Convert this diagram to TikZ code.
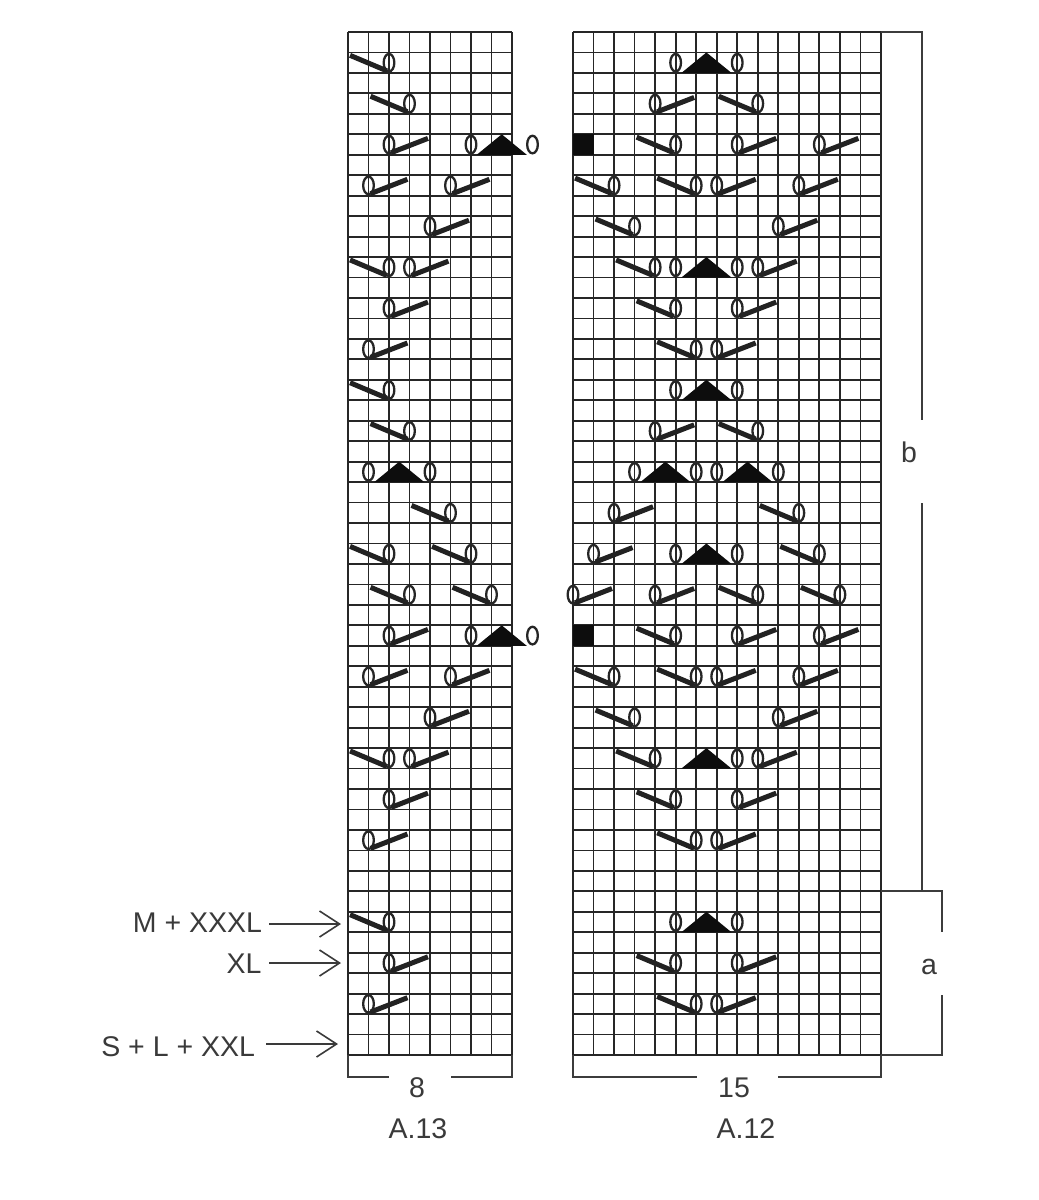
\documentclass[tikz,border=0pt]{standalone}
\usepackage{fontspec}
\setmainfont{Liberation Sans}
\usetikzlibrary{arrows.meta}
\definecolor{ink}{HTML}{262626}
\definecolor{labelink}{HTML}{3A3A3A}
\tikzset{
  chartgrid/.style={ink, line width=1.8pt},
  bar/.style={ink!90!black, line width=5pt},
  hole/.style={ink, line width=2.3pt},
  rule/.style={ink!90, line width=2.2pt},
  sizearrow/.style={labelink, line width=1.5pt, -{Straight Barb[length=20pt,width=26pt,line width=1.6pt]}},
  chartlabel/.style={labelink, inner sep=0pt, font=\fontsize{28.5}{31}\selectfont},
  sizelabel/.style={chartlabel, anchor=east, text height=20pt, text depth=0pt},
  pics/eye/.style={code={\draw [hole] (0,0) ellipse [x radius=.26, y radius=.43];}},
  pics/backdec/.style={code={
    \draw [hole] (0,0) ellipse [x radius=.26, y radius=.43];
    \draw [bar] (-1.9,-.36) -- (-.1,.4);}},
  pics/fwddec/.style={code={
    \draw [hole] (0,0) ellipse [x radius=.26, y radius=.43];
    \draw [bar] (.1,.4) -- (1.9,-.3);}},
  pics/peak/.style={code={\fill [black!95] (-1.22,.5) -- (0,-.5) -- (1.22,.5) -- cycle;}},
  pics/peakdec/.style={code={
    \pic at (-1.5,0) {eye};
    \pic at (1.5,0) {eye};
    \pic {peak};}}
}
\begin{document}
\begin{tikzpicture}[x=1pt, y=-1pt]
  \useasboundingbox (0,0) rectangle (1039,1200);
% A.13
\begin{scope}[xshift=348pt, yshift=-32pt, x=20.5pt, y=-20.46pt]
  \foreach \k in {0,...,8} \draw [chartgrid] (\k,0) -- (\k,50);
  \foreach \r in {0,...,50} \draw [chartgrid] (0,\r) -- (8,\r);
  \foreach \k/\r in {2/1, 3/3, 2/11, 2/17, 3/19, 5/23, 2/25, 6/25, 3/27, 7/27, 2/35, 2/43}
    \pic at (\k,\r+.5) {backdec};
  \foreach \k/\r in {2/5, 1/7, 5/7, 4/9, 3/11, 2/13, 1/15, 2/29, 1/31, 5/31, 4/33, 3/35, 2/37, 1/39, 2/45, 1/47}
    \pic at (\k,\r+.5) {fwddec};
  \foreach \k/\r in {7.5/5, 2.5/21, 7.5/29}
    \pic at (\k,\r+.5) {peakdec};
\end{scope}
% A.12
\begin{scope}[xshift=573pt, yshift=-32pt, x=20.53pt, y=-20.46pt]
  \foreach \k in {0,...,15} \draw [chartgrid] (\k,0) -- (\k,50);
  \foreach \r in {0,...,50} \draw [chartgrid] (0,\r) -- (15,\r);
  \fill [black!95] (0,5) rectangle (1,6);
  \fill [black!95] (0,29) rectangle (1,30);
  \foreach \k/\r in {9/3, 5/5, 2/7, 6/7, 3/9, 4/11, 5/13, 6/15, 9/19, 11/23, 12/25, 9/27, 13/27,
      5/29, 2/31, 6/31, 3/33, 4/35, 5/37, 6/39, 5/45, 6/47}
    \pic at (\k,\r+.5) {backdec};
  \foreach \k/\r in {4/3, 8/5, 12/5, 7/7, 11/7, 10/9, 9/11, 8/13, 7/15, 4/19, 2/23, 1/25, 0/27, 4/27,
      8/29, 12/29, 7/31, 11/31, 10/33, 9/35, 8/37, 7/39, 8/45, 7/47}
    \pic at (\k,\r+.5) {fwddec};
  \foreach \k/\r in {6.5/1, 6.5/11, 6.5/17, 4.5/21, 8.5/21, 6.5/25, 6.5/43}
    \pic at (\k,\r+.5) {peakdec};
  \pic at (6.5,35.5) {peak};
  \pic at (8,35.5) {eye};
\end{scope}
% brackets
  \draw [rule] (348,1055) |- (389,1077);
  \draw [rule] (451,1077) -| (512,1055);
  \draw [rule] (573,1055) |- (697,1077);
  \draw [rule] (778,1077) -| (881,1055);
  \draw [rule] (881,32) -| (922,420);
  \draw [rule] (922,503) -- (922,891);
  \draw [rule] (881,891) -| (942,932);
  \draw [rule] (942,995) |- (881,1055);
  \node [chartlabel] (count13) at (417,1088) {8};
  \node [chartlabel] (count12) at (734,1088) {15};
  \node [chartlabel] (name13) at (418,1129) {A.13};
  \node [chartlabel] (name12) at (746,1129) {A.12};
  \node [chartlabel] (parta) at (929,967) {a};
  \node [chartlabel] (partb) at (909,452) {b};
% sizes
  \node [sizelabel, outer xsep=7pt, text depth=4pt] (sizem) at (269,924) {M + XXXL};
  \node [sizelabel, outer xsep=7.5pt] (sizexl) at (269,963) {XL};
  \node [sizelabel, outer xsep=11pt, text height=25pt] (sizes) at (266,1044) {S + L + XXL};
  \coordinate (endm) at (341,924);
  \coordinate (endxl) at (341,963);
  \coordinate (ends) at (338,1044);
  \draw [sizearrow] (sizem) -- (endm);
  \draw [sizearrow] (sizexl) -- (endxl);
  \draw [sizearrow] (sizes) -- (ends);
\end{tikzpicture}
\end{document}
